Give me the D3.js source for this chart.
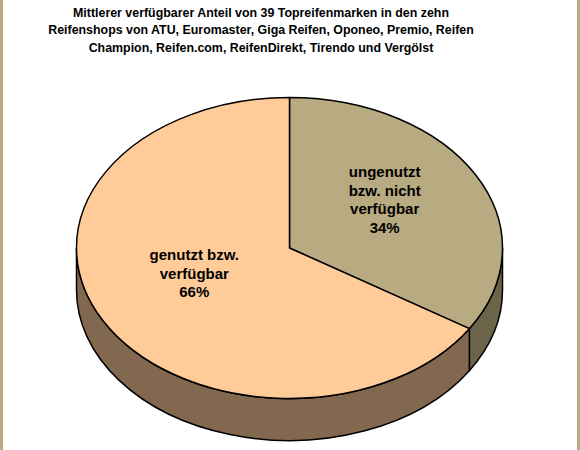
<!DOCTYPE html>
<html>
<head>
<meta charset="utf-8">
<script src="https://cdn.jsdelivr.net/npm/d3@7"></script>
<style>
  body { margin: 0; background: #fff; }
  svg { display: block; font-family: "Liberation Sans", Arial, sans-serif; }
</style>
</head>
<body>
<div id="graphic"></div>
<script>
// chart data
var categories = ["ungenutzt bzw. nicht verfügbar", "genutzt bzw. verfügbar"];
var labelLines = [["ungenutzt", "bzw. nicht", "verfügbar"], ["genutzt bzw.", "verfügbar"]];
var values = [34, 66];
var titleLines = [
    "Mittlerer verfügbarer Anteil von 39 Topreifenmarken in den zehn",
    "Reifenshops von ATU, Euromaster, Giga Reifen, Oponeo, Premio, Reifen",
    "Champion, Reifen.com, ReifenDirekt, Tirendo und Vergölst"
];

var width = 580, height = 450;
var topColors = ["#b8aa81", "#ffcc99"];
var sideColors = ["#6b6449", "#836850"];

var cx = 289.5, cy = 248, rx = 213, ry = 150.5, depth = 42;

var svg = d3.select("#graphic").append("svg")
    .attr("width", width)
    .attr("height", height);

// frame edges
svg.append("rect").attr("x", 0).attr("y", 0).attr("width", 3).attr("height", height).attr("fill", "#b9ab84");
svg.append("rect").attr("x", width - 3).attr("y", 0).attr("width", 3).attr("height", height).attr("fill", "#b9ab84");

// title
svg.append("g").selectAll("text")
    .data(titleLines)
    .enter().append("text")
    .attr("x", 261)
    .attr("y", function (d, i) { return 16.5 + i * 17.5; })
    .attr("text-anchor", "middle")
    .attr("font-size", "12.4px")
    .attr("font-weight", "bold")
    .attr("fill", "#000")
    .text(function (d) { return d; });

var pie = d3.pie().sort(null).value(function (d) { return d; });
var arcs = pie(values);
var total = d3.sum(values);

function pt(a, dy) {
    return [cx + rx * Math.sin(a), cy - ry * Math.cos(a) + (dy || 0)];
}

function topPath(d) {
    var p0 = pt(d.startAngle), p1 = pt(d.endAngle);
    var large = (d.endAngle - d.startAngle) > Math.PI ? 1 : 0;
    return "M" + cx + "," + cy + "L" + p0 + "A" + rx + "," + ry + " 0 " + large + " 1 " + p1 + "Z";
}

function sidePath(d) {
    // only the front half (between 90 and 270 degrees) is visible
    var a0 = Math.max(d.startAngle, Math.PI / 2);
    var a1 = Math.min(d.endAngle, 3 * Math.PI / 2);
    if (a1 <= a0) return null;
    var t0 = pt(a0), t1 = pt(a1), b0 = pt(a0, depth), b1 = pt(a1, depth);
    var large = (a1 - a0) > Math.PI ? 1 : 0;
    return "M" + t0 + "A" + rx + "," + ry + " 0 " + large + " 1 " + t1 +
        "L" + b1 + "A" + rx + "," + ry + " 0 " + large + " 0 " + b0 + "Z";
}

svg.append("g").selectAll("path")
    .data(arcs.filter(function (d) { return sidePath(d); }))
    .enter().append("path")
    .attr("d", sidePath)
    .attr("fill", function (d) { return sideColors[d.index]; })
    .attr("stroke", "#000")
    .attr("stroke-width", 1.5)
    .attr("stroke-linejoin", "round");

svg.append("g").selectAll("path")
    .data(arcs)
    .enter().append("path")
    .attr("d", topPath)
    .attr("fill", function (d) { return topColors[d.index]; })
    .attr("stroke", "#000")
    .attr("stroke-width", 1.5)
    .attr("stroke-linejoin", "round");

// slice labels
var labels = svg.append("g").selectAll("text")
    .data(arcs)
    .enter().append("text")
    .attr("text-anchor", "middle")
    .attr("font-size", "15px")
    .attr("font-weight", "bold")
    .attr("fill", "#000")
    .each(function (d) {
        var mid = (d.startAngle + d.endAngle) / 2;
        var c = pt(mid);
        var x = cx + (c[0] - cx) * 0.51;
        var y = cy + (c[1] - cy) * 0.51 - 11;
        var lines = labelLines[d.index].concat([Math.round(d.value / total * 100) + "%"]);
        var lh = 18.5;
        var y0 = y - (lines.length - 1) * lh / 2 + 5;
        var t = d3.select(this);
        lines.forEach(function (s, i) {
            t.append("tspan").attr("x", x).attr("y", y0 + i * lh).text(s);
        });
    });
</script>
</body>
</html>
